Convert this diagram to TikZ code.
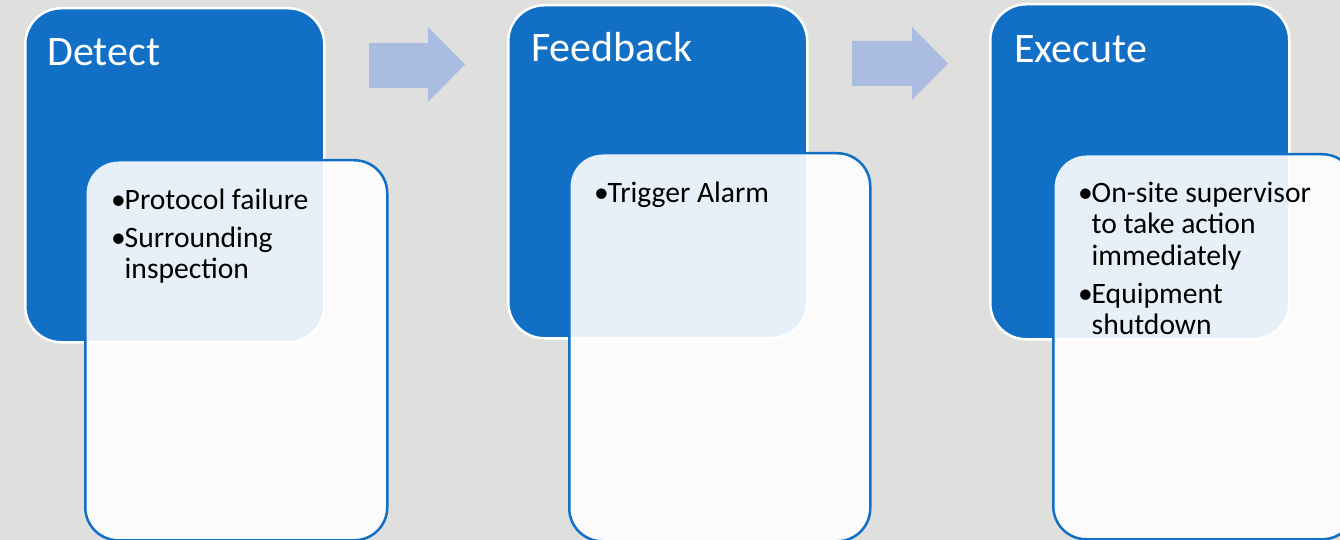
\documentclass[tikz,border=0pt]{standalone}
\usepackage{fontspec}
\setmainfont{Carlito}
\definecolor{bgGray}{RGB}{223,223,222}
\definecolor{stageBlue}{RGB}{17,112,198}
\definecolor{flowArrow}{RGB}{170,188,224}
% bullet line and its wrapped continuation
\newcommand{\blt}[1]{\makebox[13.5pt][l]{•}#1}
\newcommand{\bcnt}[1]{\hspace*{13.5pt}#1}
\begin{document}
\begin{tikzpicture}[x=1pt,y=-1pt,
  stagebox/.style={draw=white, line width=2.5pt, fill=stageBlue,
    rounded corners=36pt, rectangle, anchor=north west, inner sep=0pt},
  detailbox/.style={draw=stageBlue, line width=2.5pt, fill=white,
    fill opacity=0.9, draw opacity=1, rounded corners=33pt, rectangle,
    anchor=north west, inner sep=0pt},
  title/.style={font=\fontsize{42}{50}\selectfont, text=white,
    inner sep=0pt, anchor=base west},
  body/.style={font=\fontsize{29.6}{31.5}\selectfont, text=black,
    inner sep=0pt, anchor=base west},
  flow/.style={fill=flowArrow, draw=none}]

\clip (0,0) rectangle (1340,540);
\fill[bgGray] (0,0) rectangle (1340,540);

% stage 1
\node[stagebox, minimum width=299pt, minimum height=334pt] (s1) at (24,7) {};
\node[detailbox, minimum width=302pt, minimum height=380pt] (d1) at (84,159) {};
\node[title] (t1) at (47,66) {Detect};
\node[body] (l1) at (111,209) {\begin{tabular}[t]{@{}l@{}}
  \blt{Protocol failure}\\[6.5pt]
  \blt{Surrounding}\\
  \bcnt{inspection}
\end{tabular}};

% stage 2
\node[stagebox, minimum width=299pt, minimum height=333pt] (s2) at (507,4) {};
\node[detailbox, minimum width=301pt, minimum height=388pt] (d2) at (568,152) {};
\node[title] (t2) at (531,62) {Feedback};
\node[body] (l2) at (594,202) {\begin{tabular}[t]{@{}l@{}}
  \blt{Trigger Alarm}
\end{tabular}};

% stage 3
\node[stagebox, minimum width=299pt, minimum height=335pt] (s3) at (989,3) {};
\node[detailbox, minimum width=302pt, minimum height=385pt] (d3) at (1052,153) {};
\node[title] (t3) at (1014,63) {Execute};
\node[body] (l3) at (1078,202) {\begin{tabular}[t]{@{}l@{}}
  \blt{On-site supervisor}\\
  \bcnt{to take action}\\
  \bcnt{immediately}\\[6.5pt]
  \blt{Equipment}\\
  \bcnt{shutdown}
\end{tabular}};

% block arrows between the stages
\fill[flow] (369,43) -- (428,43) -- (428,27) -- (465,64.5) -- (428,102)
  -- (428,88) -- (369,88) -- cycle;
\fill[flow] (852,41) -- (912,41) -- (912,27) -- (948,63.5) -- (912,100)
  -- (912,86) -- (852,86) -- cycle;
\end{tikzpicture}
\end{document}
